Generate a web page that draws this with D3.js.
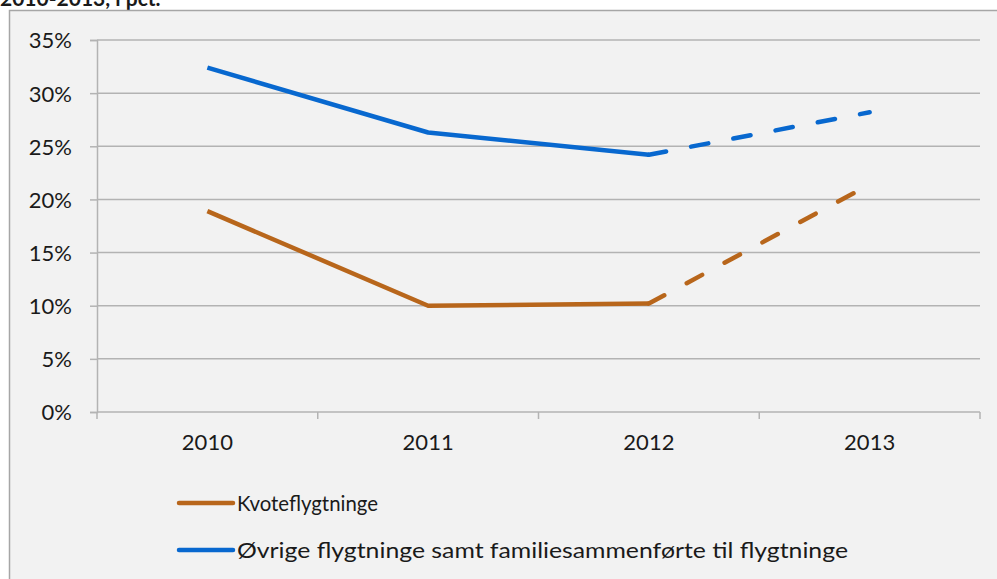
<!DOCTYPE html>
<html>
<head>
<meta charset="utf-8">
<script src="https://cdn.jsdelivr.net/npm/d3@7"></script>
<style>
  body { margin: 0; background: #ffffff; }
  svg { display: block; }
  text { font-family: Lato, "Open Sans", sans-serif; fill: #1a1a1a; }
</style>
</head>
<body>
<svg id="mainsvg" width="997" height="579"></svg>
<script>
const years = ["2010", "2011", "2012", "2013"]
const kvote = [18.9, 10.0, 10.2, 21.4]
const ovrige = [32.4, 26.3, 24.2, 28.2]
const yTicks = [0, 5, 10, 15, 20, 25, 30, 35]
const seriesNames = ["Kvoteflygtninge", "Øvrige flygtninge samt familiesammenførte til flygtninge"]
const seriesColors = ["#b8661b", "#0868cf"]
const titleText = "2010-2013, i pct."

const PLOT = { left: 97, right: 980, top: 40, bottom: 412 }

let svg = d3.select("#mainsvg")

// title of the figure, cut off at the top like in the source
svg.append("text")
  .attr("x", 0).attr("y", 6)
  .attr("font-size", 21).attr("font-weight", "bold")
  .text(titleText)

// chart area
svg.append("rect")
  .attr("x", 9.5).attr("y", 10.5)
  .attr("width", 1000).attr("height", 600)
  .attr("fill", "#f2f2f2")
  .attr("stroke", "#a6a6a6").attr("stroke-width", 1.5)

let x = d3.scaleBand().domain(years).range([PLOT.left, PLOT.right])
let y = d3.scaleLinear().domain([0, 35]).range([PLOT.bottom, PLOT.top])
const cx = d => x(d) + x.bandwidth() / 2

// gridlines
svg.append("g").selectAll("line")
  .data(yTicks.filter(t => t > 0))
  .enter().append("line")
  .attr("x1", PLOT.left).attr("x2", PLOT.right)
  .attr("y1", d => y(d)).attr("y2", d => y(d))
  .attr("stroke", "#b3b3b3").attr("stroke-width", 1.5)

// y axis
let yAxis = svg.append("g")
  .attr("transform", `translate(${PLOT.left},0)`)
  .call(d3.axisLeft(y).tickValues(yTicks).tickSize(7).tickPadding(18).tickFormat(d => d + "%"))
yAxis.select(".domain").attr("stroke", "#b3b3b3").attr("stroke-width", 1.5)
yAxis.selectAll(".tick line").attr("stroke", "#b3b3b3").attr("stroke-width", 1.5)
yAxis.selectAll(".tick text").attr("font-size", 22).attr("font-family", null).attr("fill", "#1a1a1a").attr("dy", "0.36em")

// x axis
let xAxis = svg.append("g")
  .attr("transform", `translate(0,${PLOT.bottom})`)
  .call(d3.axisBottom(x).tickSize(0).tickPadding(22))
xAxis.select(".domain").remove()
xAxis.selectAll(".tick text").attr("font-size", 22).attr("font-family", null).attr("fill", "#1a1a1a")
xAxis.append("line")
  .attr("x1", PLOT.left).attr("x2", PLOT.right).attr("y1", 0).attr("y2", 0)
  .attr("stroke", "#b3b3b3").attr("stroke-width", 1.5)
xAxis.selectAll(".bound")
  .data(years.map(d => x(d)).concat([PLOT.right]))
  .enter().append("line")
  .attr("class", "bound")
  .attr("x1", d => d).attr("x2", d => d).attr("y1", 0).attr("y2", 7)
  .attr("stroke", "#b3b3b3").attr("stroke-width", 1.5)

// lines: solid 2010-2012, dashed 2012-2013
let line = d3.line().x(d => cx(d[0])).y(d => y(d[1]))
const allSeries = [kvote, ovrige]
allSeries.forEach((vals, i) => {
  let pts = years.map((yr, j) => [yr, vals[j]])
  svg.append("path")
    .attr("d", line(pts.slice(0, 3)))
    .attr("fill", "none")
    .attr("stroke", seriesColors[i]).attr("stroke-width", 4.5)
    .attr("stroke-linejoin", "round")
  svg.append("path")
    .attr("d", line(pts.slice(2)))
    .attr("fill", "none")
    .attr("stroke", seriesColors[i]).attr("stroke-width", 4.5)
    .attr("stroke-linecap", "round")
    .attr("stroke-dasharray", "17.5,25.5")
})

// legend
const legendY = [503, 550]
const legendW = [141, 611]
let legend = svg.append("g")
seriesNames.forEach((name, i) => {
  legend.append("line")
    .attr("x1", 179).attr("x2", 233)
    .attr("y1", legendY[i]).attr("y2", legendY[i])
    .attr("stroke", seriesColors[i]).attr("stroke-width", 4.5)
    .attr("stroke-linecap", "round")
  legend.append("text")
    .attr("x", 237).attr("y", legendY[i])
    .attr("dy", "0.36em")
    .attr("font-size", 22)
    .attr("textLength", legendW[i]).attr("lengthAdjust", "spacingAndGlyphs")
    .text(name)
})
</script>
</body>
</html>
